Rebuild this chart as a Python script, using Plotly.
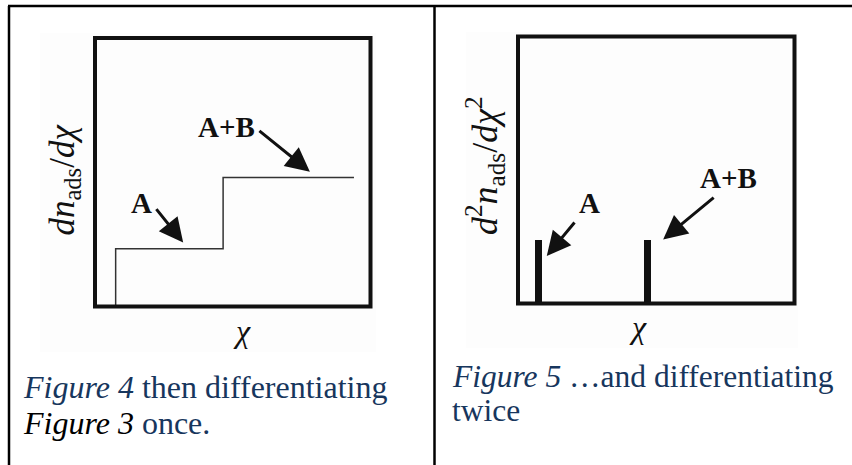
import plotly.graph_objects as go

# schematic data (arbitrary units)
step_x = [0.75, 0.75, 4.65, 4.65, 9.4]
step_y = [0, 2.15, 2.15, 4.8, 4.8]

peak_x = [0.75, 4.67]
peak_y = [2.4, 2.4]

labels = ["A", "A+B"]
cap_left = ["<i>Figure 4</i> then differentiating", "<i>Figure 3</i> once."]
cap_right = ["<i>Figure 5</i> \u2026and differentiating", "twice"]

W, H = 852, 465
serif = "Liberation Serif, DejaVu Serif, serif"
navy = "#17365D"


def px(v):
    return v / W


def py(v):
    return 1 - v / H


fig = go.Figure()

# left panel: first derivative, a staircase
fig.add_trace(go.Scatter(x=step_x, y=step_y, mode="lines",
                         line=dict(color="#333333", width=1.5),
                         xaxis="x", yaxis="y", showlegend=False,
                         hoverinfo="skip"))

# right panel: second derivative, two spikes
fig.add_trace(go.Bar(x=peak_x, y=peak_y, width=0.25,
                     marker=dict(color="#111111", line=dict(width=0)),
                     xaxis="x2", yaxis="y2", showlegend=False,
                     hoverinfo="skip"))

ax_common = dict(range=[0, 10], showgrid=False, zeroline=False,
                 showticklabels=False, ticks="", showline=False)

fig.update_layout(
    width=W, height=H,
    margin=dict(l=0, r=0, t=0, b=0),
    paper_bgcolor="white", plot_bgcolor="white",
    xaxis=dict(domain=[px(95), px(370.5)], anchor="y", **ax_common),
    yaxis=dict(domain=[py(306.5), py(38)], anchor="x", **ax_common),
    xaxis2=dict(domain=[px(518), px(794.5)], anchor="y2", **ax_common),
    yaxis2=dict(domain=[py(303.5), py(36.5)], anchor="x2", **ax_common),
    bargap=0,
)

shapes = []
# faint background of the pasted images
shapes.append(dict(type="rect", xref="paper", yref="paper",
                   x0=px(40), x1=px(376), y0=py(352), y1=py(33),
                   line=dict(width=0), fillcolor="#fdfdfd", layer="below"))
shapes.append(dict(type="rect", xref="paper", yref="paper",
                   x0=px(466), x1=px(798), y0=py(348), y1=py(32),
                   line=dict(width=0), fillcolor="#fdfdfd", layer="below"))
# plot frames
for xr, yr in [("x", "y"), ("x2", "y2")]:
    shapes.append(dict(type="rect", xref=xr + " domain", yref=yr + " domain",
                       x0=0, x1=1, y0=0, y1=1,
                       line=dict(color="#111111", width=4)))
# table borders
tbl = dict(color="black", width=2.5)
shapes.append(dict(type="line", xref="paper", yref="paper",
                   x0=px(8), x1=1, y0=py(6), y1=py(6), line=tbl))
shapes.append(dict(type="line", xref="paper", yref="paper",
                   x0=px(9), x1=px(9), y0=py(6), y1=0, line=tbl))
shapes.append(dict(type="line", xref="paper", yref="paper",
                   x0=px(434.5), x1=px(434.5), y0=py(6), y1=0, line=tbl))
fig.update_layout(shapes=shapes)

ann = []
lab_font = dict(family=serif, size=29, color="#111111")

# arrows: tip on data, tail offset in pixels
arrows = [
    ("x", "y", 3.2, 2.38, -28, -35),
    ("x", "y", 7.8, 5.02, -52, -42),
    ("x2", "y2", 1.04, 1.78, 29, -35),
    ("x2", "y2", 5.25, 2.40, 52, -43),
]
for xr, yr, x, y, axp, ayp in arrows:
    ann.append(dict(xref=xr, yref=yr, x=x, y=y, ax=axp, ay=ayp, text="",
                    showarrow=True, arrowhead=2, arrowsize=1.6,
                    arrowwidth=3, arrowcolor="#111111"))

# A / A+B labels
label_pos = [
    ("x", "y", 1.7, 3.84, labels[0]),
    ("x", "y", 4.78, 6.70, labels[1]),
    ("x2", "y2", 2.58, 3.75, labels[0]),
    ("x2", "y2", 7.61, 4.69, labels[1]),
]
for xr, yr, x, y, t in label_pos:
    ann.append(dict(xref=xr, yref=yr, x=x, y=y, text="<b>" + t + "</b>",
                    showarrow=False, font=lab_font))

# axis titles
chi_font = dict(family=serif, size=32, color="#111111")
ann.append(dict(xref="paper", yref="paper", x=px(231), y=py(351),
                text="<i>\u03c7</i>", showarrow=False, font=chi_font))
ann.append(dict(xref="paper", yref="paper", x=px(649), y=py(347),
                text="<i>\u03c7</i>", showarrow=False, font=chi_font))
ann.append(dict(xref="paper", yref="paper", x=px(40), y=py(180),
                text="<i>dn</i><sub>ads</sub>/<i>d\u03c7</i>",
                textangle=-90, showarrow=False,
                font=dict(family=serif, size=35, color="#111111")))
ann.append(dict(xref="paper", yref="paper", x=px(485), y=py(165),
                text="<i>d</i><sup>2</sup><i>n</i><sub>ads</sub>/<i>d\u03c7</i><sup>2</sup>",
                textangle=-90, showarrow=False,
                font=dict(family=serif, size=36, color="#111111")))

# captions
cap_font = dict(family=serif, size=32, color=navy)
ann.append(dict(xref="paper", yref="paper", x=px(21), y=py(387),
                xanchor="left", yanchor="middle", text=cap_left[0],
                showarrow=False, font=cap_font))
ann.append(dict(xref="paper", yref="paper", x=px(21), y=py(423),
                xanchor="left", yanchor="middle",
                text="<span style='color:black'><i>Figure 3</i></span> once.",
                showarrow=False, font=cap_font))
ann.append(dict(xref="paper", yref="paper", x=px(450), y=py(376),
                xanchor="left", yanchor="middle", text=cap_right[0],
                showarrow=False, font=dict(family=serif, size=31.5, color=navy)))
ann.append(dict(xref="paper", yref="paper", x=px(450), y=py(410),
                xanchor="left", yanchor="middle", text=cap_right[1],
                showarrow=False, font=dict(family=serif, size=31.5, color=navy)))

fig.update_layout(annotations=ann)

fig.write_html("out.html", config={"displayModeBar": False},
               post_script="document.body.style.margin='0';")
